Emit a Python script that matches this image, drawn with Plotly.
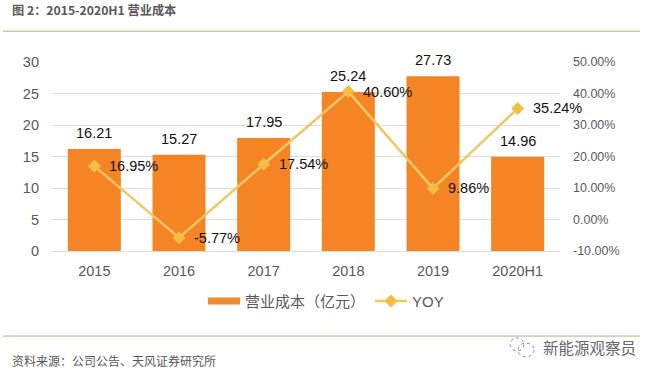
import plotly.graph_objects as go

categories = ["2015", "2016", "2017", "2018", "2019", "2020H1"]
cost = [16.21, 15.27, 17.95, 25.24, 27.73, 14.96]
yoy = [16.95, -5.77, 17.54, 40.60, 9.86, 35.24]
left_ticks = [0, 5, 10, 15, 20, 25, 30]
right_ticks = [-10, 0, 10, 20, 30, 40, 50]
right_labels = ["-10.00%", "0.00%", "10.00%", "20.00%", "30.00%", "40.00%", "50.00%"]
bar_name = "营业成本（亿元）"
line_name = "YOY"
title_text = "图 2：2015-2020H1 营业成本"
source_text = "资料来源：公司公告、天风证券研究所"
mark_text = "新能源观察员"

ORANGE = "#F58424"
LINE = "#EFC766"
MARK = "#F4BE45"
GREY = "#595959"
RULE = "#C4A77D"
LATIN = "Liberation Sans, Arial, sans-serif"
CJK = "Noto Sans CJK SC, sans-serif"
L, R, T, B = 52.0, 560.0, 61.5, 251.5
pos = list(range(len(categories)))


def px(x):
    return (x - L) / (R - L)


def py(y):
    return (B - y) / (B - T)


fig = go.Figure()
fig.add_trace(go.Bar(x=pos, y=cost, marker=dict(color=ORANGE, line=dict(width=0)),
                     width=0.626, showlegend=False, hoverinfo="skip"))
fig.add_trace(go.Scatter(x=pos, y=[None] * len(pos), mode="lines", name=bar_name,
                         line=dict(color="#EE8A33", width=7)))
fig.add_trace(go.Scatter(x=pos, y=yoy, yaxis="y2", mode="lines+markers", name=line_name,
                         line=dict(color=LINE, width=2.5),
                         marker=dict(symbol="diamond", size=10, color=MARK)))

annotations = []
for c, v in zip(pos, cost):
    annotations.append(dict(x=c, y=v, xref="x", yref="y", text=f"{v:.2f}", showarrow=False,
                            yshift=16, xanchor="center", yanchor="middle",
                            font=dict(family=LATIN, size=14.5, color="#111111")))
for c, v in zip(pos, yoy):
    annotations.append(dict(x=c, y=v, xref="x", yref="y2", text=f"{v:.2f}%", showarrow=False,
                            xshift=13, xanchor="left", yanchor="middle",
                            font=dict(family=LATIN, size=14.5, color="#111111")))
annotations += [
    dict(x=px(10), y=py(9.5), xref="paper", yref="paper", text=f"<b>{title_text}</b>", showarrow=False,
         xanchor="left", yanchor="middle", font=dict(family=CJK, size=12.2, color=GREY)),
    dict(x=px(10), y=py(362), xref="paper", yref="paper", text=source_text, showarrow=False,
         xanchor="left", yanchor="middle", font=dict(family=CJK, size=12, color=GREY)),
    dict(x=px(541), y=py(348), xref="paper", yref="paper", text=mark_text, showarrow=False,
         xanchor="left", yanchor="middle", font=dict(family=CJK, size=15.5, color="#666666")),
]

shapes = [
    dict(type="line", xref="paper", yref="paper", x0=px(3), x1=px(640), y0=py(30.5), y1=py(30.5),
         line=dict(color=RULE, width=1)),
    dict(type="line", xref="paper", yref="paper", x0=px(3), x1=px(640), y0=py(337), y1=py(337),
         line=dict(color=RULE, width=1)),
    dict(type="circle", xref="paper", yref="paper", x0=px(510), x1=px(524), y0=py(339), y1=py(352),
         line=dict(color="#888888", width=1, dash="dot")),
    dict(type="circle", xref="paper", yref="paper", x0=px(518), x1=px(534), y0=py(344), y1=py(358),
         line=dict(color="#888888", width=1, dash="dot")),
]

fig.update_layout(
    width=658, height=376, autosize=False,
    margin=dict(l=L, r=658 - R, t=T, b=376 - B),
    paper_bgcolor="white", plot_bgcolor="white",
    xaxis=dict(range=[-0.5, 5.5], tickvals=pos, ticktext=categories, showgrid=False, zeroline=False,
               showline=False, ticks="", ticklabelstandoff=9,
               tickfont=dict(family=LATIN, size=14.5, color=GREY)),
    yaxis=dict(range=[0, 30], tickvals=left_ticks, showgrid=True, gridcolor="#DCDCDC", gridwidth=1.2,
               zeroline=True, zerolinecolor="#DCDCDC", zerolinewidth=1.2, showline=False, ticks="",
               ticklabelstandoff=12, tickfont=dict(family=LATIN, size=14.5, color=GREY)),
    yaxis2=dict(range=[-10, 50], overlaying="y", side="right", tickvals=right_ticks, ticktext=right_labels,
                showgrid=False, zeroline=False, showline=False, ticks="", ticklabelstandoff=12,
                tickfont=dict(family=LATIN, size=12.5, color=GREY)),
    legend=dict(orientation="h", x=px(326), y=py(302), xanchor="center", yanchor="middle",
                itemwidth=32, itemclick=False, itemdoubleclick=False,
                font=dict(family="Liberation Sans, Noto Sans CJK SC, sans-serif", size=15, color=GREY),
                bgcolor="rgba(0,0,0,0)"),
    annotations=annotations, shapes=shapes,
    showlegend=True, hovermode=False,
)
fig.write_html("out.html", config=dict(displayModeBar=False),
               post_script="document.body.style.margin='0';")
